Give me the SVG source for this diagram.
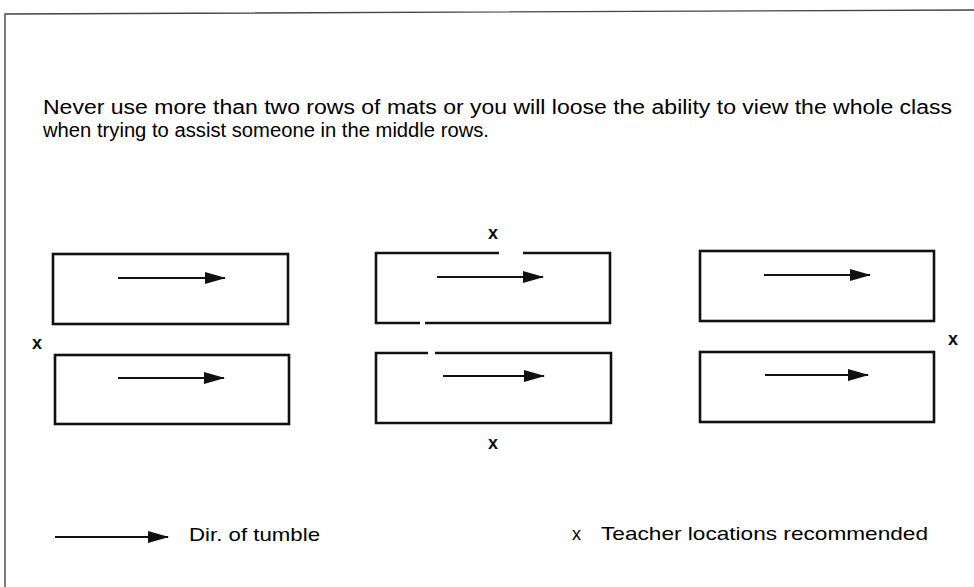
<svg xmlns="http://www.w3.org/2000/svg" width="974" height="587" viewBox="0 0 974 587">
<style>
.mat{fill:none;stroke:#111;stroke-width:2.6;stroke-linejoin:miter}
.arr{fill:none;stroke:#111;stroke-width:2.2;marker-end:url(#ah)}
.txt{font-family:"Liberation Sans",Arial,sans-serif;fill:#000}
.x{font-family:"Liberation Sans",Arial,sans-serif;font-weight:bold;font-size:18px;fill:#111;text-anchor:middle}
.frame{fill:none;stroke:#444;stroke-width:1.4}
</style>
<defs>
<marker id="ah" markerUnits="userSpaceOnUse" markerWidth="22" markerHeight="14" refX="20" refY="7" orient="auto">
<path d="M0,1 L21,7 L0,13 Z" fill="#111"/>
</marker>
</defs>
<rect width="974" height="587" fill="#fff"/>
<path class="frame" d="M5,587 L5,14 L974,10"/>
<g id="caption">
<text class="txt" x="43" y="114" font-size="19.5" textLength="909" lengthAdjust="spacingAndGlyphs">Never use more than two rows of mats or you will loose the ability to view the whole class</text>
<text class="txt" x="43" y="137" font-size="19.5" textLength="446" lengthAdjust="spacingAndGlyphs">when trying to assist someone in the middle rows.</text>
</g>
<g id="mat-left-top"><rect class="mat" x="53" y="254" width="235" height="70"/></g>
<g id="mat-left-bottom"><rect class="mat" x="55" y="355" width="234" height="69"/></g>
<g id="mat-mid-top"><path class="mat" d="M499,253 L376,253 L376,323 L420,323 M425,323 L610,323 L610,253 L523,253"/></g>
<g id="mat-mid-bottom"><path class="mat" d="M428,353 L376,353 L376,423 L611,423 L611,353 L435,353"/></g>
<g id="mat-right-top"><rect class="mat" x="700" y="251" width="234" height="70"/></g>
<g id="mat-right-bottom"><rect class="mat" x="700" y="352" width="234" height="70"/></g>
<g id="teacher-marks">
<text class="x" x="37" y="349">x</text>
<text class="x" x="493" y="239">x</text>
<text class="x" x="493" y="449">x</text>
<text class="x" x="953" y="345">x</text>
</g>
<g id="connectors">
<line class="arr" x1="118" y1="278" x2="225" y2="278"/>
<line class="arr" x1="118" y1="378" x2="224" y2="378"/>
<line class="arr" x1="437" y1="277" x2="543" y2="277"/>
<line class="arr" x1="443" y1="376" x2="544" y2="376"/>
<line class="arr" x1="764" y1="275" x2="870" y2="275"/>
<line class="arr" x1="765" y1="375" x2="868" y2="375"/>
<line class="arr" x1="55" y1="537" x2="168" y2="537"/>
</g>
<g id="legend">
<text class="txt" x="189" y="541" font-size="19" textLength="131" lengthAdjust="spacingAndGlyphs">Dir. of tumble</text>
<text class="txt" x="572" y="540" font-size="18">x</text>
<text class="txt" x="601" y="540" font-size="19" textLength="327" lengthAdjust="spacingAndGlyphs">Teacher locations recommended</text>
</g>
</svg>
